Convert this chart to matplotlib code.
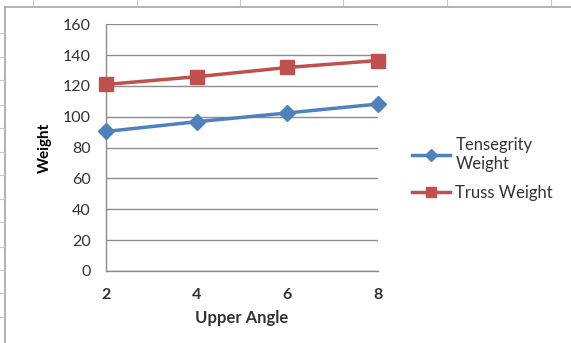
import matplotlib.pyplot as plt
from matplotlib.lines import Line2D

angles = [2, 4, 6, 8]
tensegrity_weight = [90.5, 96.8, 102.5, 108.3]
truss_weight = [121.0, 126.0, 132.0, 136.5]
y_ticks = [0, 20, 40, 60, 80, 100, 120, 140, 160]

blue = '#4F81BD'
red = '#C0504D'
grid_col = '#8C8C8C'
text_col = '#333333'

plt.rcParams['font.family'] = ['Lato', 'DejaVu Sans']

fig = plt.figure(figsize=(5.71, 3.43), dpi=100)
fig.patch.set_facecolor('white')

# chart frame and sheet ticks around it
fig.add_artist(Line2D([5/571, 5/571], [0, 1 - 7/343], color='#A6A6A6', lw=1.2))
fig.add_artist(Line2D([5/571, 1], [1 - 7/343, 1 - 7/343], color='#A6A6A6', lw=1.2))
for xt in [33, 137, 240, 343, 447, 551]:
    fig.add_artist(Line2D([xt/571, xt/571], [1 - 6/343, 1], color='#C8C8C8', lw=0.8))
for yt in [33, 57, 80, 105, 128, 152, 175, 199, 222, 247, 270, 293, 317]:
    fig.add_artist(Line2D([0, 4/571], [1 - yt/343, 1 - yt/343], color='#C8C8C8', lw=0.8))

ax = fig.add_axes([106/571, 1 - 271/343, (378 - 106)/571, (271 - 24.3)/343])
ax.plot(angles, tensegrity_weight, color=blue, lw=2.5, marker='D', markersize=8,
        label='Tensegrity\nWeight', clip_on=False, zorder=3)
ax.plot(angles, truss_weight, color=red, lw=2.5, marker='s', markersize=9.5,
        label='Truss Weight', clip_on=False, zorder=3)

ax.set_xlim(2, 8)
ax.set_ylim(0, 160)
ax.set_xticks(angles)
ax.set_yticks(y_ticks)
ax.tick_params(length=0, labelsize=11.5, colors=text_col)
ax.tick_params(axis='y', pad=11)
ax.tick_params(axis='x', pad=12)
for lbl in ax.get_xticklabels():
    lbl.set_fontweight('bold')
ax.grid(axis='y', color=grid_col, lw=1.0)
ax.set_axisbelow(True)
for side in ['top', 'right']:
    ax.spines[side].set_visible(False)
for side in ['left', 'bottom']:
    ax.spines[side].set_color(grid_col)
    ax.spines[side].set_linewidth(1.0)

ax.set_xlabel('Upper Angle', fontsize=12, fontweight='bold', color=text_col, labelpad=6)
ax.set_ylabel('Weight', fontsize=11, fontweight='bold', color='black', labelpad=8)

fig.legend(loc='upper left', bbox_to_anchor=(412/571, 1 - 137/343), frameon=False,
           fontsize=12, labelcolor=text_col, handlelength=2.3, labelspacing=0.8,
           handletextpad=0.3, borderpad=0, borderaxespad=0, markerscale=0.8)

fig.savefig('out.png', dpi=100)
